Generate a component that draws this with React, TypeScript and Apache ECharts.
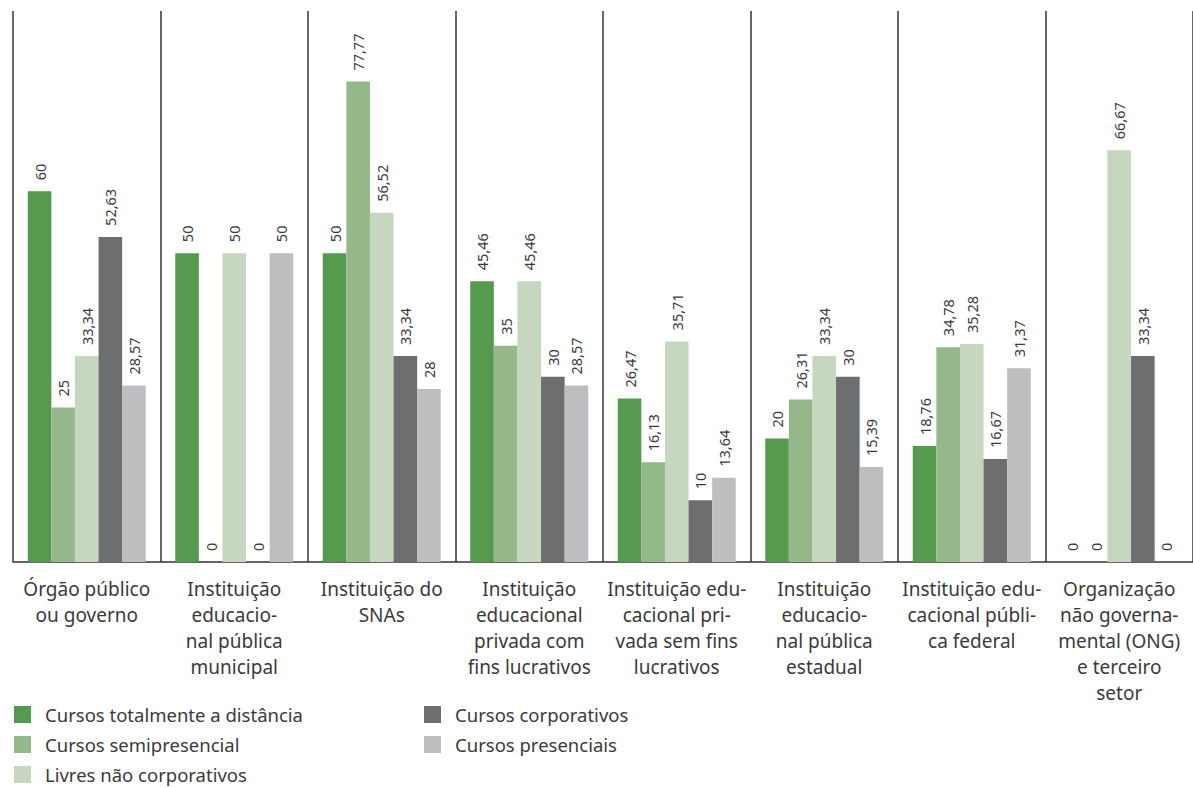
import React, { useEffect, useRef } from "react";
import * as echarts from "echarts";

const categories = [
  "Órgão público\nou governo",
  "Instituição\neducacio-\nnal pública\nmunicipal",
  "Instituição do\nSNAs",
  "Instituição\neducacional\nprivada com\nfins lucrativos",
  "Instituição edu-\ncacional pri-\nvada sem fins\nlucrativos",
  "Instituição\neducacio-\nnal pública\nestadual",
  "Instituição edu-\ncacional públi-\nca federal",
  "Organização\nnão governa-\nmental (ONG)\ne terceiro\nsetor",
];

const seriesNames = [
  "Cursos totalmente a distância",
  "Cursos semipresencial",
  "Livres não corporativos",
  "Cursos corporativos",
  "Cursos presenciais",
];

const totalmenteDistancia = [60, 50, 50, 45.46, 26.47, 20, 18.76, 0];
const semipresencial = [25, 0, 77.77, 35, 16.13, 26.31, 34.78, 0];
const livresNaoCorporativos = [33.34, 50, 56.52, 45.46, 35.71, 33.34, 35.28, 66.67];
const corporativos = [52.63, 0, 33.34, 30, 10, 30, 16.67, 33.34];
const presenciais = [28.57, 50, 28, 28.57, 13.64, 15.39, 31.37, 0];

const seriesData = [
  totalmenteDistancia,
  semipresencial,
  livresNaoCorporativos,
  corporativos,
  presenciais,
];

const colors = ["#559a4f", "#94b889", "#c7d6be", "#6d6e70", "#bdbec0"];

const FONT = "'Noto Sans', sans-serif";

// legend slot for each series: [left, top]
const legendSlots = [
  [14, 705],
  [14, 735],
  [14, 765],
  [424, 705],
  [424, 735],
];

export default function App() {
  const ref = useRef<HTMLDivElement>(null);
  useEffect(() => {
    if (!ref.current) return;
    const chart = echarts.init(ref.current, null, { renderer: "svg" });
    chart.setOption({
      animation: false,
      color: colors,
      textStyle: { fontFamily: FONT },
      grid: { left: 13, right: 0, top: 11, bottom: 225, containLabel: false },
      legend: seriesNames.map((name, i) => ({
        data: [name],
        left: legendSlots[i][0],
        top: legendSlots[i][1],
        itemWidth: 17,
        itemHeight: 17,
        icon: "rect",
        padding: 0,
        selectedMode: false,
        textStyle: {
          fontFamily: FONT,
          fontSize: 18.5,
          lineHeight: 17,
          color: "#3a3a3a",
          padding: [0, 0, 0, 9],
        },
      })),
      xAxis: {
        type: "category",
        data: categories,
        boundaryGap: true,
        axisLine: { show: true, lineStyle: { color: "#333", width: 1.5 } },
        axisTick: { show: false },
        splitLine: { show: true, lineStyle: { color: "#333", width: 1.5 } },
        axisLabel: {
          interval: 0,
          margin: 14,
          fontFamily: FONT,
          fontSize: 19,
          lineHeight: 26,
          color: "#3a3a3a",
          align: "center",
          verticalAlign: "top",
        },
      },
      yAxis: {
        type: "value",
        min: 0,
        max: 89.2,
        show: false,
        splitLine: { show: false },
      },
      series: seriesNames.map((name, i) => ({
        name,
        type: "bar",
        data: seriesData[i],
        barGap: "0%",
        barCategoryGap: "20%",
        label: {
          show: true,
          position: "top",
          rotate: 90,
          align: "left",
          verticalAlign: "middle",
          distance: 11,
          fontFamily: FONT,
          fontSize: 14.5,
          color: "#3a3a3a",
          formatter: (p: any) => String(p.value).replace(".", ","),
        },
      })),
    });
    return () => chart.dispose();
  }, []);
  return (
    <div
      ref={ref}
      style={{ position: "fixed", left: 0, top: 0, width: 1193, height: 787, background: "#fff" }}
    />
  );
}
